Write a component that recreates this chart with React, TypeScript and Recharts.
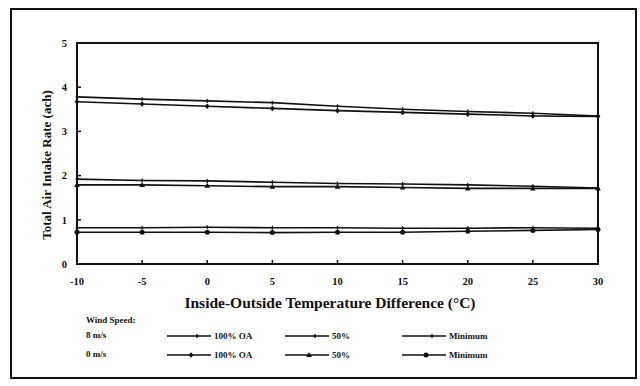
import React from "react";
import {
  LineChart,
  Line,
  XAxis,
  YAxis,
  ReferenceArea,
} from "recharts";

const temps = [-10, -5, 0, 5, 10, 15, 20, 25, 30];

// upper lines (first legend row, plain)
const oaFullPlain = [3.78, 3.73, 3.69, 3.65, 3.57, 3.5, 3.45, 3.41, 3.35];
const halfPlain = [1.92, 1.89, 1.88, 1.85, 1.82, 1.81, 1.79, 1.76, 1.72];
const minPlain = [0.82, 0.82, 0.83, 0.82, 0.82, 0.81, 0.81, 0.82, 0.81];

// lower lines (second legend row, with markers)
const oaFullMark = [3.67, 3.62, 3.57, 3.52, 3.47, 3.43, 3.39, 3.35, 3.34];
const halfMark = [1.79, 1.79, 1.77, 1.75, 1.75, 1.73, 1.71, 1.71, 1.71];
const minMark = [0.72, 0.72, 0.72, 0.71, 0.72, 0.72, 0.74, 0.76, 0.78];

const xTicks = [-10, -5, 0, 5, 10, 15, 20, 25, 30];
const yTicks = [0, 1, 2, 3, 4, 5];

const windRows = ["8 m/s", "0 m/s"];
const caseNames = ["100% OA", "50%", "Minimum"];

const data = temps.map((t, i) => ({
  t,
  oaP: oaFullPlain[i],
  halfP: halfPlain[i],
  minP: minPlain[i],
  oaM: oaFullMark[i],
  halfM: halfMark[i],
  minM: minMark[i],
}));

const font = "'Liberation Serif', 'Times New Roman', serif";
const ink = "#111";

type Shape = "plus" | "diamond" | "triangle" | "circle";

function Marker({ cx, cy, shape }: { cx: number; cy: number; shape: Shape }) {
  if (cx == null || cy == null) return null;
  if (shape === "plus")
    return (
      <path
        d={`M${cx - 1.5},${cy}H${cx + 1.5}M${cx},${cy - 2}V${cy + 2}`}
        stroke={ink}
        strokeWidth={1.2}
      />
    );
  if (shape === "diamond")
    return (
      <path
        d={`M${cx},${cy - 2.8}L${cx + 2.4},${cy}L${cx},${cy + 2.8}L${cx - 2.4},${cy}Z`}
        fill={ink}
      />
    );
  if (shape === "triangle")
    return (
      <path
        d={`M${cx},${cy - 3}L${cx + 2.8},${cy + 2}L${cx - 2.8},${cy + 2}Z`}
        fill={ink}
      />
    );
  return <circle cx={cx} cy={cy} r={2.5} fill={ink} />;
}

const series = [
  { key: "oaP", row: 0, col: 0, shape: "plus" as Shape },
  { key: "halfP", row: 0, col: 1, shape: "plus" as Shape },
  { key: "minP", row: 0, col: 2, shape: "plus" as Shape },
  { key: "oaM", row: 1, col: 0, shape: "diamond" as Shape },
  { key: "halfM", row: 1, col: 1, shape: "triangle" as Shape },
  { key: "minM", row: 1, col: 2, shape: "circle" as Shape },
];

const legendCols = [167, 285, 402];

function LegendSample({ shape }: { shape: Shape }) {
  return (
    <svg width={44} height={10} style={{ display: "block" }}>
      <line x1={0} y1={5} x2={44} y2={5} stroke={ink} strokeWidth={1.6} />
      <Marker cx={shape === "plus" ? 30 : 24} cy={5} shape={shape} />
    </svg>
  );
}

export default function App() {
  return (
    <div
      style={{
        position: "absolute",
        left: 0,
        top: 0,
        width: 640,
        height: 386,
        background: "#fff",
        fontFamily: font,
        fontWeight: "bold",
        color: ink,
      }}
    >
      <div
        style={{
          position: "absolute",
          left: 10,
          top: 8,
          width: 623,
          height: 367,
          border: `2px solid ${ink}`,
        }}
      />
      <div style={{ position: "absolute", left: 0, top: 0 }}>
        <LineChart
          width={640}
          height={300}
          data={data}
          margin={{ top: 43, right: 42, left: 47, bottom: 0 }}
        >
          <XAxis
            dataKey="t"
            type="number"
            domain={[-10, 30]}
            ticks={xTicks}
            height={36}
            tickSize={-4}
            tickMargin={18}
            axisLine={{ stroke: ink, strokeWidth: 2 }}
            tickLine={{ stroke: ink, strokeWidth: 1.5 }}
            tick={{ fill: ink, fontSize: 10.5, fontWeight: "bold", fontFamily: font }}
          />
          <YAxis
            type="number"
            domain={[0, 5]}
            ticks={yTicks}
            width={30}
            tickSize={-4}
            tickMargin={14}
            axisLine={{ stroke: ink, strokeWidth: 2 }}
            tickLine={{ stroke: ink, strokeWidth: 1.5 }}
            tick={{ fill: ink, fontSize: 10.5, fontWeight: "bold", fontFamily: font }}
          />
          <ReferenceArea
            x1={-10}
            x2={30}
            y1={0}
            y2={5}
            fill="none"
            fillOpacity={0}
            stroke={ink}
            strokeWidth={2}
          />
          {series.map((s) => (
            <Line
              key={s.key}
              dataKey={s.key}
              name={`${windRows[s.row]} ${caseNames[s.col]}`}
              type="linear"
              stroke={ink}
              strokeWidth={1.6}
              isAnimationActive={false}
              dot={(p: any) => (
                <Marker key={`${s.key}-${p.index}`} cx={p.cx} cy={p.cy} shape={s.shape} />
              )}
              activeDot={false}
            />
          ))}
        </LineChart>
      </div>

      <div
        style={{
          position: "absolute",
          left: 47,
          top: 165,
          transform: "translate(-50%, -50%) rotate(-90deg)",
          whiteSpace: "nowrap",
          fontSize: 13,
        }}
      >
        Total Air Intake Rate (ach)
      </div>
      <div
        style={{
          position: "absolute",
          left: 330,
          top: 303,
          transform: "translate(-50%, -50%)",
          whiteSpace: "nowrap",
          fontSize: 15.5,
        }}
      >
        Inside-Outside Temperature Difference (°C)
      </div>

      <div style={{ position: "absolute", left: 86, top: 315, fontSize: 9 }}>
        Wind Speed:
      </div>
      {windRows.map((w, r) => (
        <React.Fragment key={w}>
          <div
            style={{
              position: "absolute",
              left: 86,
              top: 330 + r * 19,
              fontSize: 9,
            }}
          >
            {w}
          </div>
          {series
            .filter((s) => s.row === r)
            .map((s) => (
              <div
                key={s.key}
                style={{
                  position: "absolute",
                  left: legendCols[s.col],
                  top: 330 + r * 19,
                  display: "flex",
                  alignItems: "center",
                  gap: 3,
                  fontSize: 9,
                  height: 12,
                }}
              >
                <LegendSample shape={s.shape} />
                <span>{caseNames[s.col]}</span>
              </div>
            ))}
        </React.Fragment>
      ))}
    </div>
  );
}
